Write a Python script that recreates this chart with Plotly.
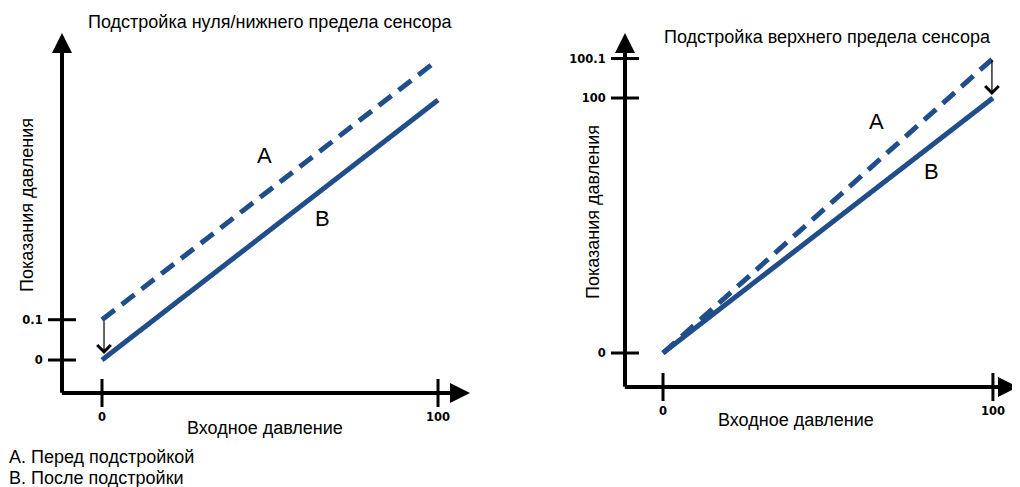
import plotly.graph_objects as go

# ---- data ----
input_pressure = [0, 100]                 # input pressure (% of range)
zero_before = [0.1, 100.1]                # zero trim: reading before trim (A)
zero_after = [0.0, 100.0]                 # zero trim: reading after trim (B)
span_before = [0.0, 100.1]                # span trim: reading before trim (A)
span_after = [0.0, 100.0]                 # span trim: reading after trim (B)
x_tick_vals = [0, 100]
x_tick_text = ["0", "100"]
zero_y_ticks = [0.0, 0.1]
zero_y_text = ["0", "0.1"]
span_y_ticks = [0.0, 100.0, 100.1]
span_y_text = ["0", "100", "100.1"]

titles = ["Подстройка нуля/нижнего предела сенсора", "Подстройка верхнего предела сенсора"]
x_title = "Входное давление"
y_title = "Показания давления"
legend_lines = ["A. Перед подстройкой", "B. После подстройки"]

# schematic: reading error is magnified so it is visible
MAG = 155.0


def disp(inp, reading):
    return [i + (r - i) * MAG for i, r in zip(inp, reading)]


W, H = 1020, 487
OFF = 8  # page body margin
BLUE = "#1f4e8a"
AX_FONT = dict(family="DejaVu Sans", size=11.5, color="black", weight="bold")
TXT = dict(family="Liberation Sans, Arial", size=18, color="black")


def px(v):
    return (v - OFF) / W


def py(v):
    return 1 - (v - OFF) / H


fig = go.Figure()

panels = [
    dict(xa="x", ya="y", xr=[-11.905, 109.52], yr=[-12.69, 125.77],
         xdom=[px(62), px(470)], ydom=[py(393), py(33)],
         a=disp(input_pressure, zero_before), b=disp(input_pressure, zero_after),
         yt=disp([0, 0], zero_y_ticks), ytt=zero_y_text),
    dict(xa="x2", ya="y2", xr=[-11.52, 107.6], yr=[-13.33, 125.5],
         xdom=[px(625), px(1018)], ydom=[py(387), py(33)],
         a=disp(input_pressure, span_before), b=disp(input_pressure, span_after),
         yt=disp([0, 100, 100], span_y_ticks), ytt=span_y_text),
]

for i, p in enumerate(panels):
    fig.add_trace(go.Scatter(x=input_pressure, y=p["b"], mode="lines",
                             line=dict(color=BLUE, width=5), xaxis=p["xa"], yaxis=p["ya"],
                             showlegend=False, hoverinfo="skip"))
    fig.add_trace(go.Scatter(x=input_pressure, y=p["a"], mode="lines",
                             line=dict(color=BLUE, width=5, dash="16px,9px"),
                             xaxis=p["xa"], yaxis=p["ya"], showlegend=False, hoverinfo="skip"))
    # cross ticks on axes
    fig.add_trace(go.Scatter(x=x_tick_vals, y=[p["yr"][0]] * len(x_tick_vals), mode="markers",
                             marker=dict(symbol="line-ns", size=20, line=dict(width=3, color="black")),
                             xaxis=p["xa"], yaxis=p["ya"], cliponaxis=False,
                             showlegend=False, hoverinfo="skip"))
    fig.add_trace(go.Scatter(x=[p["xr"][0]] * len(p["yt"]), y=p["yt"], mode="markers",
                             marker=dict(symbol="line-ew", size=20, line=dict(width=3, color="black")),
                             xaxis=p["xa"], yaxis=p["ya"], cliponaxis=False,
                             showlegend=False, hoverinfo="skip"))

    sfx = "" if i == 0 else "2"
    fig.update_layout({
        "xaxis" + sfx: dict(domain=p["xdom"], range=p["xr"], anchor=p["ya"],
                            tickvals=x_tick_vals, ticktext=x_tick_text, ticks="outside",
                            ticklen=13, tickcolor="rgba(0,0,0,0)", tickfont=AX_FONT,
                            showgrid=False, zeroline=False, showline=False, fixedrange=True),
        "yaxis" + sfx: dict(domain=p["ydom"], range=p["yr"], anchor=p["xa"],
                            tickvals=p["yt"], ticktext=p["ytt"], ticks="outside",
                            ticklen=10, tickcolor="rgba(0,0,0,0)", tickfont=AX_FONT,
                            ticklabelstandoff=6,
                            showgrid=False, zeroline=False, showline=False, fixedrange=True),
    })

    # axis arrows
    fig.add_annotation(xref=p["xa"], yref=p["ya"], axref=p["xa"], ayref=p["ya"],
                       x=p["xr"][1], y=p["yr"][0], ax=p["xr"][0] - 0.5, ay=p["yr"][0],
                       showarrow=True, arrowhead=2, arrowsize=1, arrowwidth=4,
                       arrowcolor="black", text="")
    fig.add_annotation(xref=p["xa"], yref=p["ya"], axref=p["xa"], ayref=p["ya"],
                       x=p["xr"][0], y=p["yr"][1], ax=p["xr"][0], ay=p["yr"][0] - 0.5,
                       showarrow=True, arrowhead=2, arrowsize=1, arrowwidth=4,
                       arrowcolor="black", text="")

# trim arrows (A -> B)
fig.add_annotation(xref="x", yref="y", axref="x", ayref="y",
                   x=input_pressure[0] + 0.6, y=panels[0]["b"][0], ax=input_pressure[0] + 0.6,
                   ay=panels[0]["a"][0], standoff=6, showarrow=True, arrowhead=4,
                   arrowsize=2.2, arrowwidth=1.2, arrowcolor="black", text="")
fig.add_annotation(xref="x2", yref="y2", axref="x2", ayref="y2",
                   x=input_pressure[1] - 0.3, y=panels[1]["b"][1], ax=input_pressure[1] - 0.3,
                   ay=panels[1]["a"][1], standoff=3, showarrow=True, arrowhead=4,
                   arrowsize=2.2, arrowwidth=1.2, arrowcolor="black", text="")

# A / B labels
big = dict(family="Liberation Sans, Arial", size=22, color="black")
fig.add_annotation(xref="x", yref="y", x=48.5, y=78.8, text="A", showarrow=False, font=big)
fig.add_annotation(xref="x", yref="y", x=65.5, y=54.6, text="B", showarrow=False, font=big)
fig.add_annotation(xref="x2", yref="y2", x=64.8, y=90.6, text="A", showarrow=False, font=big)
fig.add_annotation(xref="x2", yref="y2", x=81.5, y=71.0, text="B", showarrow=False, font=big)

# titles
fig.add_annotation(xref="paper", yref="paper", x=px(270), y=py(22), text=titles[0],
                   xanchor="center", yanchor="middle", showarrow=False, font=TXT)
fig.add_annotation(xref="paper", yref="paper", x=px(827), y=py(37), text=titles[1],
                   xanchor="center", yanchor="middle", showarrow=False, font=TXT)
# axis titles
fig.add_annotation(xref="paper", yref="paper", x=px(265), y=py(428), text=x_title,
                   xanchor="center", yanchor="middle", showarrow=False, font=TXT)
fig.add_annotation(xref="paper", yref="paper", x=px(796), y=py(420), text=x_title,
                   xanchor="center", yanchor="middle", showarrow=False, font=TXT)
fig.add_annotation(xref="paper", yref="paper", x=px(27), y=py(205), text=y_title,
                   xanchor="center", yanchor="middle", textangle=-90, showarrow=False, font=TXT)
fig.add_annotation(xref="paper", yref="paper", x=px(593), y=py(212), text=y_title,
                   xanchor="center", yanchor="middle", textangle=-90, showarrow=False, font=TXT)
# legend text
for k, line in enumerate(legend_lines):
    fig.add_annotation(xref="paper", yref="paper", x=px(7), y=py(457 + 21 * k), text=line,
                       xanchor="left", yanchor="middle", showarrow=False, font=TXT)

fig.update_layout(width=W, height=H, margin=dict(l=0, r=0, t=0, b=0),
                  paper_bgcolor="white", plot_bgcolor="white", showlegend=False)

fig.write_html("out.html", config=dict(displayModeBar=False))
